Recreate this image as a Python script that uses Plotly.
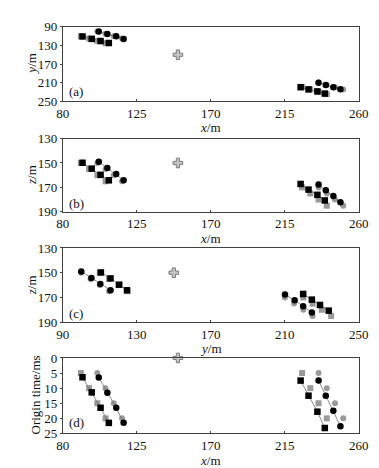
import plotly.graph_objects as go

# Source (true position and origin time)
src_x, src_y, src_z, src_t = [150], [150], [150], [0]

# True receiver positions (gray)
t_true = [5, 10, 15, 20]
sqL_x_true = [91, 96, 101, 106]
sqL_y_true = [110, 115, 120, 125]
sqL_z_true = [150, 155, 160, 165]
ciL_x_true = [101, 106, 111, 116]
ciL_y_true = [100, 105, 110, 115]
ciL_z_true = [150, 155, 160, 165]
sqR_x_true = [225.5, 230.5, 235.5, 240.5]
sqR_y_true = [220, 225, 230, 235]
sqR_z_true = [170, 175, 180, 185]
ciR_x_true = [235.5, 240.5, 245.5, 250.5]
ciR_y_true = [210, 215, 220, 225]
ciR_z_true = [170, 175, 180, 185]

# Estimated positions (black)
sqL_x = [92.0, 97.6, 103.0, 108.0]
sqL_y = [110.6, 115.8, 120.5, 124.7]
sqL_z = [149.8, 154.6, 159.7, 164.2]
sqL_t = [6.4, 11.4, 16.5, 21.5]
ciL_x = [101.9, 107.1, 112.5, 117.0]
ciL_y = [100.0, 105.5, 110.3, 115.8]
ciL_z = [149.0, 154.2, 159.1, 164.1]
ciL_t = [6.5, 11.5, 16.5, 21.5]
sqR_x = [224.6, 229.4, 234.8, 239.3]
sqR_y = [219.9, 224.6, 229.0, 233.7]
sqR_z = [167.2, 171.8, 176.1, 180.7]
sqR_t = [7.5, 12.5, 17.8, 23.2]
ciR_x = [235.5, 239.9, 244.5, 248.8]
ciR_y = [210.1, 215.3, 219.9, 224.6]
ciR_z = [167.7, 172.3, 177.1, 182.2]
ciR_t = [7.5, 12.5, 17.5, 22.6]

x_ticks = [80, 125, 170, 215, 260]
y_ticks_a = [90, 130, 170, 210, 250]
z_ticks = [130, 150, 170, 190]
y_ticks_c = [90, 130, 170, 210, 250]
t_ticks = [0, 5, 10, 15, 20, 25]

GRAY = "#9a9a9a"
BLACK = "#000000"
LINE = "#707070"
FONT = "Liberation Serif"

fig = go.Figure()

panels = [
    ("x", "y",
     [(sqL_x_true, sqL_y_true, sqL_x, sqL_y, "square"),
      (ciL_x_true, ciL_y_true, ciL_x, ciL_y, "circle"),
      (sqR_x_true, sqR_y_true, sqR_x, sqR_y, "square"),
      (ciR_x_true, ciR_y_true, ciR_x, ciR_y, "circle")],
     (src_x, src_y)),
    ("x2", "y2",
     [(sqL_x_true, sqL_z_true, sqL_x, sqL_z, "square"),
      (ciL_x_true, ciL_z_true, ciL_x, ciL_z, "circle"),
      (sqR_x_true, sqR_z_true, sqR_x, sqR_z, "square"),
      (ciR_x_true, ciR_z_true, ciR_x, ciR_z, "circle")],
     (src_x, src_z)),
    ("x3", "y3",
     [(sqL_y_true, sqL_z_true, sqL_y, sqL_z, "square"),
      (ciL_y_true, ciL_z_true, ciL_y, ciL_z, "circle"),
      (sqR_y_true, sqR_z_true, sqR_y, sqR_z, "square"),
      (ciR_y_true, ciR_z_true, ciR_y, ciR_z, "circle")],
     (src_y, src_z)),
    ("x4", "y4",
     [(sqL_x_true, t_true, sqL_x, sqL_t, "square"),
      (ciL_x_true, t_true, ciL_x, ciL_t, "circle"),
      (sqR_x_true, t_true, sqR_x, sqR_t, "square"),
      (ciR_x_true, t_true, ciR_x, ciR_t, "circle")],
     (src_x, src_t)),
]

for xa, ya, groups, (sx, sy) in panels:
    for tx, ty, ex, ey, sym in groups:
        fig.add_trace(go.Scatter(x=tx, y=ty, mode="markers", xaxis=xa, yaxis=ya,
                                 marker=dict(symbol=sym, size=6, color=GRAY),
                                 showlegend=False, hoverinfo="skip", cliponaxis=False))
    for tx, ty, ex, ey, sym in groups:
        fig.add_trace(go.Scatter(x=ex, y=ey, mode="lines+markers", xaxis=xa, yaxis=ya,
                                 line=dict(color=LINE, width=0.8),
                                 marker=dict(symbol=sym, size=6.5, color=BLACK),
                                 showlegend=False, hoverinfo="skip", cliponaxis=False))
    fig.add_trace(go.Scatter(x=sx, y=sy, mode="markers", xaxis=xa, yaxis=ya,
                             marker=dict(symbol="cross", size=8, color="#c4c4c4",
                                         line=dict(color="#7a7a7a", width=1)),
                             showlegend=False, hoverinfo="skip", cliponaxis=False))

H = 468.0
W = 379.0
xdom = [50 / W, 360 / W]
ydoms = [
    [1 - 89 / H, 1 - 12.3 / H],
    [1 - 203.3 / H, 1 - 127.7 / H],
    [1 - 317.3 / H, 1 - 240.7 / H],
    [1 - 432.3 / H, 1 - 354.3 / H],
]

axis_common = dict(showgrid=False, zeroline=False, showline=True, mirror=True,
                   linecolor="#404040", linewidth=1, ticklen=2,
                   tickcolor="#404040", ticklabelstandoff=0,
                   tickfont=dict(family=FONT, size=13, color="#111"))

x_ranges = [[80, 260], [80, 260], [90, 250], [80, 260]]
x_tickvals = [x_ticks, x_ticks, y_ticks_c, x_ticks]
y_ranges = [[250, 90], [190, 130], [190, 130], [25, 0]]
y_tickvals = [y_ticks_a, z_ticks, z_ticks, t_ticks]

layout = dict(width=379, height=468, margin=dict(l=0, r=0, t=0, b=0),
              paper_bgcolor="white", plot_bgcolor="white",
              font=dict(family=FONT, size=12, color="#111"))
for i in range(4):
    sfx = "" if i == 0 else str(i + 1)
    layout["xaxis" + sfx] = dict(axis_common, domain=xdom, range=x_ranges[i],
                                 tickvals=x_tickvals[i], anchor="y" + sfx,
                                 ticks="inside")
    layout["yaxis" + sfx] = dict(axis_common, domain=ydoms[i], range=y_ranges[i],
                                 tickvals=y_tickvals[i], anchor="x" + sfx,
                                 ticks="outside")
fig.update_layout(**layout)

def ann(text, x, y, angle=0, size=13):
    fig.add_annotation(text=text, x=x / W, y=1 - y / H, xref="paper", yref="paper",
                       showarrow=False, textangle=angle, xanchor="center", yanchor="middle",
                       borderpad=0, font=dict(family=FONT, size=size, color="#111"))

# axis titles
ann("<i>x</i>/m", 205, 116)
ann("<i>x</i>/m", 205, 231)
ann("<i>y</i>/m", 205, 345)
ann("<i>x</i>/m", 205, 460)
ann("<i>y</i>/m", 17, 50, angle=-90)
ann("<i>z</i>/m", 17, 165, angle=-90)
ann("<i>z</i>/m", 17, 279, angle=-90)
ann("Origin time/ms", 21, 393, angle=-90)

# panel labels
ann("(a)", 64, 79)
ann("(b)", 64, 195)
ann("(c)", 64, 308)
ann("(d)", 64, 421)

fig.write_html("out.html")
